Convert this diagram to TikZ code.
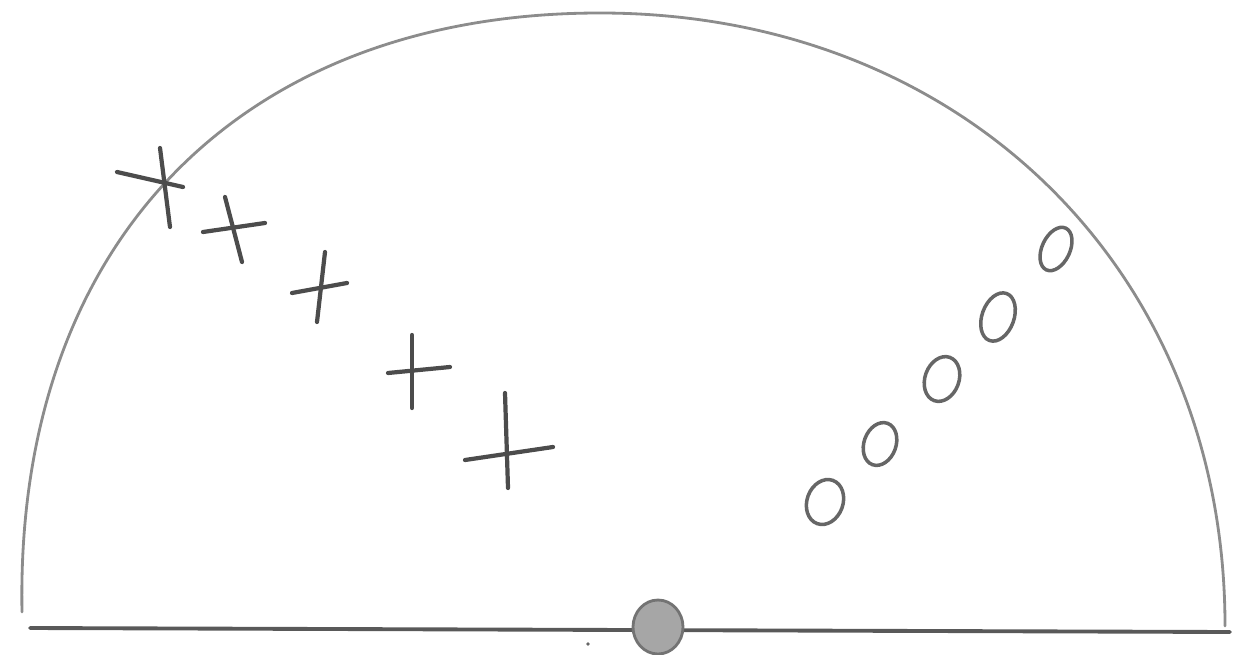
\documentclass[tikz,border=0pt]{standalone}
\begin{document}
\begin{tikzpicture}[x=0.02cm,y=-0.02cm,
  arcline/.style={draw=black!45, line width=1.6pt, line cap=round, line join=round},
  baseline/.style={draw=black!65, line width=2.2pt, line cap=round},
  crossline/.style={draw=black!70, line width=2.4pt, line cap=round},
  zeroline/.style={draw=black!60, line width=2pt},
  ball/.style={draw=black!55, fill=black!35, line width=1.6pt}]
\useasboundingbox (0,0) rectangle (1236,655);
% semicircle
\coordinate (al) at (22,612);
\coordinate (at) at (600,13);
\coordinate (ar) at (1225,626);
\draw[arcline] (al) .. controls (15,241) and (242,13) .. (at)
  .. controls (962,13) and (1225,270) .. (ar);
% base line
\coordinate (bl) at (30,628);
\coordinate (br) at (1230,632);
\draw[baseline] (bl) -- (br);
% crosses
\draw[crossline] (160,148) -- (170,227);
\draw[crossline] (117,172) -- (183,187);
\draw[crossline] (225,197) -- (242,262);
\draw[crossline] (203,232) -- (265,223);
\draw[crossline] (325,252) -- (317,322);
\draw[crossline] (292,293) -- (347,283);
\draw[crossline] (412,335) -- (412,408);
\draw[crossline] (388,373) -- (450,367);
\draw[crossline] (505,393) -- (508,488);
\draw[crossline] (465,460) -- (553,447);
% zeros
\draw[zeroline] (1056,249) ellipse [x radius=14, y radius=23, rotate=-25];
\draw[zeroline] (998,317) ellipse [x radius=16, y radius=25, rotate=-20];
\draw[zeroline] (942,379) ellipse [x radius=17, y radius=23, rotate=-20];
\draw[zeroline] (880,444) ellipse [x radius=16, y radius=22, rotate=-20];
\draw[zeroline] (825,502) ellipse [x radius=18, y radius=23, rotate=-20];
% ball
\draw[ball] (658,627) ellipse [x radius=25, y radius=27];
\fill[black!60] (588,644) circle [radius=1.8];
\end{tikzpicture}
\end{document}
